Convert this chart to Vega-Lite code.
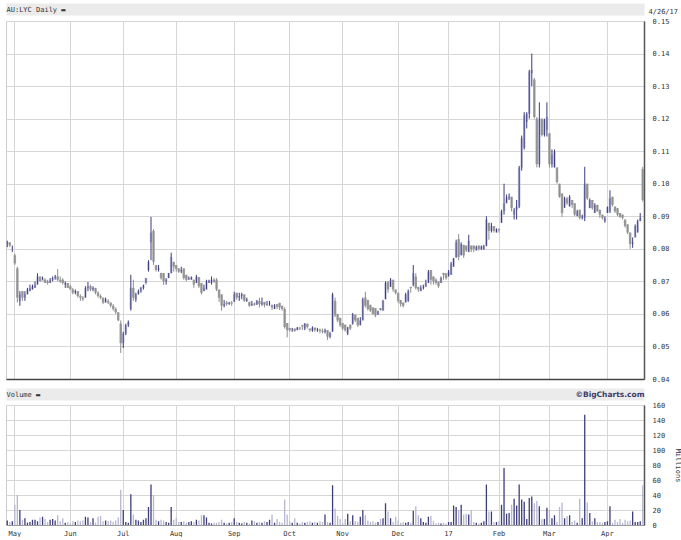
{
"$schema":"https://vega.github.io/schema/vega-lite/v6.json",
"background":"white",
"padding":{"left":5,"top":4,"right":0,"bottom":0},
"spacing":26,
"bounds":"flush",
"config":{
 "font":"DejaVu Sans Mono",
 "view":{"stroke":"#cccccc","strokeWidth":1},
 "axis":{"labelFont":"DejaVu Sans Mono","labelFontSize":7,"labelColor":"#333333","titleFont":"DejaVu Sans Mono","titleFontSize":7,"titleFontWeight":"normal","titleColor":"#333333","gridColor":"#d6d6d6","gridWidth":1,"ticks":false,"domain":false}
},
"datasets":{"p":[
{"d":"2016-04-27","o":0.0815,"h":0.0825,"l":0.0805,"c":0.082,"v":6},
{"d":"2016-04-28","o":0.082,"h":0.082,"l":0.0805,"c":0.081,"v":4},
{"d":"2016-04-29","o":0.0805,"h":0.081,"l":0.079,"c":0.0805,"v":5},
{"d":"2016-05-02","o":0.078,"h":0.0785,"l":0.075,"c":0.0755,"v":27},
{"d":"2016-05-03","o":0.074,"h":0.0745,"l":0.0635,"c":0.065,"v":40},
{"d":"2016-05-04","o":0.064,"h":0.067,"l":0.0625,"c":0.066,"v":20},
{"d":"2016-05-05","o":0.067,"h":0.067,"l":0.064,"c":0.065,"v":7},
{"d":"2016-05-06","o":0.065,"h":0.067,"l":0.064,"c":0.066,"v":9},
{"d":"2016-05-09","o":0.066,"h":0.068,"l":0.066,"c":0.0675,"v":3},
{"d":"2016-05-10","o":0.067,"h":0.069,"l":0.067,"c":0.068,"v":4},
{"d":"2016-05-11","o":0.0675,"h":0.069,"l":0.0675,"c":0.0685,"v":7},
{"d":"2016-05-12","o":0.068,"h":0.07,"l":0.068,"c":0.069,"v":7},
{"d":"2016-05-13","o":0.069,"h":0.0725,"l":0.069,"c":0.0715,"v":5},
{"d":"2016-05-16","o":0.0715,"h":0.0715,"l":0.07,"c":0.07,"v":10},
{"d":"2016-05-17","o":0.07,"h":0.0715,"l":0.0705,"c":0.071,"v":11},
{"d":"2016-05-18","o":0.0705,"h":0.071,"l":0.0695,"c":0.0695,"v":8},
{"d":"2016-05-19","o":0.07,"h":0.0705,"l":0.069,"c":0.0695,"v":4},
{"d":"2016-05-20","o":0.0695,"h":0.071,"l":0.0695,"c":0.0705,"v":7},
{"d":"2016-05-23","o":0.0705,"h":0.0715,"l":0.07,"c":0.071,"v":8},
{"d":"2016-05-24","o":0.071,"h":0.072,"l":0.0705,"c":0.0715,"v":6},
{"d":"2016-05-25","o":0.0715,"h":0.0738,"l":0.07,"c":0.0705,"v":13},
{"d":"2016-05-26","o":0.0705,"h":0.0715,"l":0.0695,"c":0.07,"v":5},
{"d":"2016-05-27","o":0.0705,"h":0.071,"l":0.069,"c":0.0695,"v":9},
{"d":"2016-05-30","o":0.069,"h":0.07,"l":0.068,"c":0.0695,"v":3},
{"d":"2016-05-31","o":0.0695,"h":0.0695,"l":0.068,"c":0.068,"v":4},
{"d":"2016-06-01","o":0.0685,"h":0.069,"l":0.0675,"c":0.0675,"v":2},
{"d":"2016-06-02","o":0.0675,"h":0.068,"l":0.066,"c":0.0665,"v":5},
{"d":"2016-06-03","o":0.0665,"h":0.0675,"l":0.066,"c":0.067,"v":4},
{"d":"2016-06-06","o":0.067,"h":0.067,"l":0.065,"c":0.0655,"v":6},
{"d":"2016-06-07","o":0.0655,"h":0.066,"l":0.064,"c":0.065,"v":5},
{"d":"2016-06-08","o":0.065,"h":0.0655,"l":0.064,"c":0.0645,"v":6},
{"d":"2016-06-09","o":0.065,"h":0.0685,"l":0.065,"c":0.068,"v":11},
{"d":"2016-06-10","o":0.068,"h":0.0698,"l":0.067,"c":0.0685,"v":10},
{"d":"2016-06-14","o":0.0685,"h":0.069,"l":0.067,"c":0.0675,"v":4},
{"d":"2016-06-15","o":0.0675,"h":0.0685,"l":0.067,"c":0.068,"v":9},
{"d":"2016-06-16","o":0.068,"h":0.068,"l":0.066,"c":0.0665,"v":3},
{"d":"2016-06-17","o":0.0665,"h":0.067,"l":0.065,"c":0.0655,"v":11},
{"d":"2016-06-20","o":0.0655,"h":0.066,"l":0.0645,"c":0.065,"v":12},
{"d":"2016-06-21","o":0.065,"h":0.065,"l":0.063,"c":0.0635,"v":5},
{"d":"2016-06-22","o":0.0635,"h":0.065,"l":0.0635,"c":0.0645,"v":6},
{"d":"2016-06-23","o":0.064,"h":0.0645,"l":0.063,"c":0.0635,"v":5},
{"d":"2016-06-24","o":0.0635,"h":0.0635,"l":0.062,"c":0.0625,"v":6},
{"d":"2016-06-27","o":0.0625,"h":0.063,"l":0.061,"c":0.0615,"v":4},
{"d":"2016-06-28","o":0.0615,"h":0.062,"l":0.06,"c":0.0605,"v":6},
{"d":"2016-06-29","o":0.0605,"h":0.0605,"l":0.0578,"c":0.058,"v":10},
{"d":"2016-06-30","o":0.057,"h":0.058,"l":0.048,"c":0.051,"v":47},
{"d":"2016-07-01","o":0.051,"h":0.0545,"l":0.0495,"c":0.054,"v":20},
{"d":"2016-07-04","o":0.054,"h":0.057,"l":0.0535,"c":0.0565,"v":4},
{"d":"2016-07-05","o":0.0565,"h":0.058,"l":0.056,"c":0.0575,"v":3},
{"d":"2016-07-06","o":0.0615,"h":0.072,"l":0.061,"c":0.068,"v":41},
{"d":"2016-07-07","o":0.068,"h":0.0705,"l":0.064,"c":0.065,"v":14},
{"d":"2016-07-08","o":0.0645,"h":0.0665,"l":0.0637,"c":0.066,"v":7},
{"d":"2016-07-11","o":0.066,"h":0.0675,"l":0.066,"c":0.067,"v":6},
{"d":"2016-07-12","o":0.067,"h":0.0683,"l":0.0665,"c":0.068,"v":4},
{"d":"2016-07-13","o":0.068,"h":0.069,"l":0.0675,"c":0.0688,"v":7},
{"d":"2016-07-14","o":0.069,"h":0.071,"l":0.0695,"c":0.071,"v":9},
{"d":"2016-07-15","o":0.0735,"h":0.0765,"l":0.073,"c":0.076,"v":24},
{"d":"2016-07-18","o":0.082,"h":0.0898,"l":0.0765,"c":0.085,"v":54},
{"d":"2016-07-19","o":0.0855,"h":0.086,"l":0.075,"c":0.076,"v":40},
{"d":"2016-07-20","o":0.075,"h":0.075,"l":0.073,"c":0.0735,"v":7},
{"d":"2016-07-21","o":0.0735,"h":0.075,"l":0.073,"c":0.074,"v":5},
{"d":"2016-07-22","o":0.0726,"h":0.0726,"l":0.0705,"c":0.071,"v":7},
{"d":"2016-07-25","o":0.0725,"h":0.0726,"l":0.0689,"c":0.07,"v":6},
{"d":"2016-07-26","o":0.07,"h":0.071,"l":0.069,"c":0.0705,"v":4},
{"d":"2016-07-27","o":0.071,"h":0.0726,"l":0.071,"c":0.0725,"v":3},
{"d":"2016-07-28","o":0.0725,"h":0.0788,"l":0.0725,"c":0.0775,"v":24},
{"d":"2016-07-29","o":0.076,"h":0.076,"l":0.073,"c":0.0745,"v":7},
{"d":"2016-08-01","o":0.075,"h":0.075,"l":0.073,"c":0.0738,"v":9},
{"d":"2016-08-02","o":0.074,"h":0.074,"l":0.0726,"c":0.073,"v":4},
{"d":"2016-08-03","o":0.073,"h":0.0745,"l":0.0725,"c":0.0735,"v":4},
{"d":"2016-08-04","o":0.074,"h":0.074,"l":0.0705,"c":0.071,"v":5},
{"d":"2016-08-05","o":0.072,"h":0.072,"l":0.07,"c":0.0705,"v":3},
{"d":"2016-08-08","o":0.0705,"h":0.0715,"l":0.0705,"c":0.071,"v":4},
{"d":"2016-08-09","o":0.0705,"h":0.0715,"l":0.0705,"c":0.0713,"v":5},
{"d":"2016-08-10","o":0.0705,"h":0.0705,"l":0.068,"c":0.069,"v":4},
{"d":"2016-08-11","o":0.0695,"h":0.072,"l":0.0695,"c":0.0715,"v":7},
{"d":"2016-08-12","o":0.0713,"h":0.0713,"l":0.068,"c":0.0685,"v":6},
{"d":"2016-08-15","o":0.0695,"h":0.0695,"l":0.066,"c":0.0665,"v":13},
{"d":"2016-08-16","o":0.067,"h":0.069,"l":0.067,"c":0.068,"v":13},
{"d":"2016-08-17","o":0.0675,"h":0.0705,"l":0.0675,"c":0.07,"v":10},
{"d":"2016-08-18","o":0.0695,"h":0.0705,"l":0.0695,"c":0.0703,"v":3},
{"d":"2016-08-19","o":0.0695,"h":0.0715,"l":0.069,"c":0.0705,"v":2},
{"d":"2016-08-22","o":0.0705,"h":0.071,"l":0.0695,"c":0.0698,"v":3},
{"d":"2016-08-23","o":0.0705,"h":0.071,"l":0.067,"c":0.0675,"v":3},
{"d":"2016-08-24","o":0.0675,"h":0.0675,"l":0.0637,"c":0.065,"v":4},
{"d":"2016-08-25","o":0.066,"h":0.066,"l":0.061,"c":0.0625,"v":7},
{"d":"2016-08-26","o":0.0625,"h":0.0643,"l":0.062,"c":0.063,"v":3},
{"d":"2016-08-29","o":0.0635,"h":0.064,"l":0.0625,"c":0.063,"v":2},
{"d":"2016-08-30","o":0.063,"h":0.0637,"l":0.0628,"c":0.0635,"v":3},
{"d":"2016-08-31","o":0.0635,"h":0.064,"l":0.0625,"c":0.0632,"v":4},
{"d":"2016-09-01","o":0.0637,"h":0.0668,"l":0.0637,"c":0.066,"v":9},
{"d":"2016-09-02","o":0.0665,"h":0.0665,"l":0.0643,"c":0.065,"v":4},
{"d":"2016-09-05","o":0.065,"h":0.0665,"l":0.064,"c":0.0655,"v":3},
{"d":"2016-09-06","o":0.0655,"h":0.0665,"l":0.0645,"c":0.066,"v":2},
{"d":"2016-09-07","o":0.066,"h":0.066,"l":0.0637,"c":0.064,"v":4},
{"d":"2016-09-08","o":0.064,"h":0.065,"l":0.0637,"c":0.0645,"v":3},
{"d":"2016-09-09","o":0.0637,"h":0.0637,"l":0.0622,"c":0.0625,"v":2},
{"d":"2016-09-12","o":0.0625,"h":0.064,"l":0.0625,"c":0.063,"v":6},
{"d":"2016-09-13","o":0.0632,"h":0.0635,"l":0.0625,"c":0.0628,"v":5},
{"d":"2016-09-14","o":0.0628,"h":0.0643,"l":0.0628,"c":0.064,"v":3},
{"d":"2016-09-15","o":0.064,"h":0.065,"l":0.062,"c":0.063,"v":4},
{"d":"2016-09-16","o":0.063,"h":0.065,"l":0.0625,"c":0.0635,"v":3},
{"d":"2016-09-19","o":0.0637,"h":0.0637,"l":0.062,"c":0.0628,"v":5},
{"d":"2016-09-20","o":0.0628,"h":0.064,"l":0.0625,"c":0.063,"v":4},
{"d":"2016-09-21","o":0.063,"h":0.064,"l":0.0625,"c":0.0632,"v":7},
{"d":"2016-09-22","o":0.0628,"h":0.0628,"l":0.0612,"c":0.062,"v":14},
{"d":"2016-09-23","o":0.0615,"h":0.063,"l":0.0615,"c":0.0625,"v":3},
{"d":"2016-09-26","o":0.063,"h":0.063,"l":0.0615,"c":0.0622,"v":8},
{"d":"2016-09-27","o":0.0634,"h":0.0634,"l":0.0612,"c":0.062,"v":4},
{"d":"2016-09-28","o":0.0625,"h":0.0625,"l":0.061,"c":0.0615,"v":3},
{"d":"2016-09-29","o":0.0615,"h":0.062,"l":0.0555,"c":0.056,"v":34},
{"d":"2016-09-30","o":0.0572,"h":0.0572,"l":0.0528,"c":0.055,"v":14},
{"d":"2016-10-03","o":0.0557,"h":0.0557,"l":0.0545,"c":0.055,"v":5},
{"d":"2016-10-04","o":0.055,"h":0.0557,"l":0.0545,"c":0.0552,"v":3},
{"d":"2016-10-05","o":0.0555,"h":0.0555,"l":0.0545,"c":0.0548,"v":9},
{"d":"2016-10-06","o":0.055,"h":0.056,"l":0.055,"c":0.0558,"v":3},
{"d":"2016-10-07","o":0.0558,"h":0.056,"l":0.055,"c":0.0555,"v":2},
{"d":"2016-10-10","o":0.0566,"h":0.0566,"l":0.055,"c":0.0562,"v":4},
{"d":"2016-10-11","o":0.0555,"h":0.0572,"l":0.055,"c":0.057,"v":3},
{"d":"2016-10-12","o":0.057,"h":0.057,"l":0.0555,"c":0.056,"v":4},
{"d":"2016-10-13","o":0.0555,"h":0.0555,"l":0.0545,"c":0.055,"v":5},
{"d":"2016-10-14","o":0.0548,"h":0.0562,"l":0.0545,"c":0.0558,"v":3},
{"d":"2016-10-17","o":0.0558,"h":0.0558,"l":0.0545,"c":0.055,"v":4},
{"d":"2016-10-18","o":0.055,"h":0.0557,"l":0.0545,"c":0.0552,"v":3},
{"d":"2016-10-19","o":0.0552,"h":0.0555,"l":0.054,"c":0.0548,"v":5},
{"d":"2016-10-20","o":0.0548,"h":0.0555,"l":0.054,"c":0.0545,"v":4},
{"d":"2016-10-21","o":0.0545,"h":0.0555,"l":0.054,"c":0.055,"v":14},
{"d":"2016-10-24","o":0.055,"h":0.055,"l":0.052,"c":0.053,"v":4},
{"d":"2016-10-25","o":0.053,"h":0.0545,"l":0.0525,"c":0.054,"v":3},
{"d":"2016-10-26","o":0.0545,"h":0.0665,"l":0.0545,"c":0.066,"v":53},
{"d":"2016-10-27","o":0.064,"h":0.065,"l":0.059,"c":0.0595,"v":22},
{"d":"2016-10-28","o":0.06,"h":0.06,"l":0.0575,"c":0.058,"v":12},
{"d":"2016-10-31","o":0.0588,"h":0.0588,"l":0.056,"c":0.0565,"v":8},
{"d":"2016-11-01","o":0.0572,"h":0.0572,"l":0.055,"c":0.0555,"v":3},
{"d":"2016-11-02","o":0.0567,"h":0.0567,"l":0.0545,"c":0.055,"v":8},
{"d":"2016-11-03","o":0.054,"h":0.056,"l":0.0535,"c":0.0558,"v":15},
{"d":"2016-11-04","o":0.0567,"h":0.0567,"l":0.055,"c":0.0555,"v":5},
{"d":"2016-11-07","o":0.057,"h":0.0603,"l":0.0567,"c":0.06,"v":13},
{"d":"2016-11-08","o":0.0598,"h":0.0598,"l":0.0575,"c":0.058,"v":5},
{"d":"2016-11-09","o":0.0588,"h":0.0588,"l":0.056,"c":0.0565,"v":4},
{"d":"2016-11-10","o":0.0565,"h":0.059,"l":0.0565,"c":0.058,"v":11},
{"d":"2016-11-11","o":0.058,"h":0.065,"l":0.058,"c":0.0645,"v":20},
{"d":"2016-11-14","o":0.065,"h":0.0668,"l":0.062,"c":0.0625,"v":13},
{"d":"2016-11-15","o":0.0643,"h":0.0643,"l":0.061,"c":0.0615,"v":6},
{"d":"2016-11-16","o":0.0628,"h":0.0628,"l":0.0606,"c":0.061,"v":4},
{"d":"2016-11-17","o":0.062,"h":0.062,"l":0.0597,"c":0.06,"v":5},
{"d":"2016-11-18","o":0.0618,"h":0.0618,"l":0.059,"c":0.0595,"v":3},
{"d":"2016-11-21","o":0.0597,"h":0.061,"l":0.0597,"c":0.0608,"v":4},
{"d":"2016-11-22","o":0.0618,"h":0.0618,"l":0.061,"c":0.0612,"v":8},
{"d":"2016-11-23","o":0.061,"h":0.0643,"l":0.061,"c":0.064,"v":9},
{"d":"2016-11-24","o":0.0645,"h":0.07,"l":0.0645,"c":0.0695,"v":29},
{"d":"2016-11-25","o":0.07,"h":0.07,"l":0.0665,"c":0.0675,"v":18},
{"d":"2016-11-28","o":0.0683,"h":0.071,"l":0.0683,"c":0.0705,"v":9},
{"d":"2016-11-29","o":0.0705,"h":0.0705,"l":0.0668,"c":0.0675,"v":4},
{"d":"2016-11-30","o":0.0675,"h":0.0675,"l":0.066,"c":0.0665,"v":11},
{"d":"2016-12-01","o":0.0665,"h":0.0665,"l":0.0634,"c":0.064,"v":6},
{"d":"2016-12-02","o":0.0643,"h":0.0643,"l":0.0622,"c":0.063,"v":3},
{"d":"2016-12-05","o":0.0635,"h":0.0635,"l":0.062,"c":0.0625,"v":4},
{"d":"2016-12-06","o":0.0635,"h":0.0665,"l":0.0635,"c":0.066,"v":3},
{"d":"2016-12-07","o":0.064,"h":0.0675,"l":0.0637,"c":0.067,"v":4},
{"d":"2016-12-08","o":0.0683,"h":0.0683,"l":0.0665,"c":0.068,"v":3},
{"d":"2016-12-09","o":0.069,"h":0.075,"l":0.0685,"c":0.0725,"v":19},
{"d":"2016-12-12","o":0.0715,"h":0.0725,"l":0.0675,"c":0.068,"v":25},
{"d":"2016-12-13","o":0.0683,"h":0.0683,"l":0.0668,"c":0.0675,"v":13},
{"d":"2016-12-14","o":0.067,"h":0.0688,"l":0.067,"c":0.068,"v":9},
{"d":"2016-12-15","o":0.068,"h":0.069,"l":0.0675,"c":0.0685,"v":4},
{"d":"2016-12-16","o":0.0685,"h":0.0705,"l":0.0683,"c":0.0695,"v":3},
{"d":"2016-12-19","o":0.0695,"h":0.0735,"l":0.0695,"c":0.073,"v":11},
{"d":"2016-12-20","o":0.0735,"h":0.0735,"l":0.069,"c":0.0705,"v":12},
{"d":"2016-12-21","o":0.0715,"h":0.0715,"l":0.069,"c":0.07,"v":5},
{"d":"2016-12-22","o":0.0705,"h":0.071,"l":0.069,"c":0.0695,"v":2},
{"d":"2016-12-23","o":0.07,"h":0.07,"l":0.068,"c":0.0685,"v":3},
{"d":"2016-12-28","o":0.0695,"h":0.0715,"l":0.0695,"c":0.071,"v":2},
{"d":"2016-12-29","o":0.0726,"h":0.0726,"l":0.0705,"c":0.072,"v":3},
{"d":"2016-12-30","o":0.0725,"h":0.0725,"l":0.0705,"c":0.071,"v":2},
{"d":"2017-01-03","o":0.0715,"h":0.0735,"l":0.0715,"c":0.073,"v":4},
{"d":"2017-01-04","o":0.072,"h":0.076,"l":0.072,"c":0.0755,"v":4},
{"d":"2017-01-05","o":0.0745,"h":0.0772,"l":0.0745,"c":0.077,"v":26},
{"d":"2017-01-06","o":0.0775,"h":0.0828,"l":0.0772,"c":0.082,"v":24},
{"d":"2017-01-09","o":0.083,"h":0.0845,"l":0.0765,"c":0.0775,"v":20},
{"d":"2017-01-10","o":0.078,"h":0.082,"l":0.078,"c":0.0815,"v":27},
{"d":"2017-01-11","o":0.0812,"h":0.0812,"l":0.0772,"c":0.078,"v":14},
{"d":"2017-01-12","o":0.081,"h":0.081,"l":0.079,"c":0.0795,"v":15},
{"d":"2017-01-13","o":0.079,"h":0.0843,"l":0.079,"c":0.0825,"v":14},
{"d":"2017-01-16","o":0.081,"h":0.081,"l":0.079,"c":0.0798,"v":20},
{"d":"2017-01-17","o":0.081,"h":0.081,"l":0.079,"c":0.08,"v":4},
{"d":"2017-01-18","o":0.0795,"h":0.081,"l":0.0795,"c":0.0805,"v":3},
{"d":"2017-01-19","o":0.081,"h":0.081,"l":0.0795,"c":0.08,"v":2},
{"d":"2017-01-20","o":0.0797,"h":0.081,"l":0.0797,"c":0.0808,"v":3},
{"d":"2017-01-23","o":0.0797,"h":0.0812,"l":0.0797,"c":0.081,"v":5},
{"d":"2017-01-24","o":0.081,"h":0.09,"l":0.0808,"c":0.089,"v":54},
{"d":"2017-01-25","o":0.088,"h":0.088,"l":0.0828,"c":0.0855,"v":18},
{"d":"2017-01-27","o":0.0855,"h":0.088,"l":0.085,"c":0.087,"v":18},
{"d":"2017-01-30","o":0.087,"h":0.087,"l":0.085,"c":0.0855,"v":4},
{"d":"2017-01-31","o":0.085,"h":0.0863,"l":0.085,"c":0.086,"v":4},
{"d":"2017-02-01","o":0.086,"h":0.0863,"l":0.085,"c":0.0857,"v":5},
{"d":"2017-02-02","o":0.088,"h":0.092,"l":0.088,"c":0.0915,"v":27},
{"d":"2017-02-03","o":0.0915,"h":0.1,"l":0.0905,"c":0.094,"v":76},
{"d":"2017-02-06","o":0.094,"h":0.0967,"l":0.094,"c":0.0958,"v":15},
{"d":"2017-02-07","o":0.0955,"h":0.097,"l":0.095,"c":0.096,"v":16},
{"d":"2017-02-08","o":0.096,"h":0.096,"l":0.0915,"c":0.0925,"v":27},
{"d":"2017-02-09","o":0.0905,"h":0.0925,"l":0.089,"c":0.092,"v":35},
{"d":"2017-02-10","o":0.092,"h":0.095,"l":0.089,"c":0.093,"v":26},
{"d":"2017-02-13","o":0.093,"h":0.1055,"l":0.0925,"c":0.105,"v":54},
{"d":"2017-02-14","o":0.105,"h":0.1148,"l":0.104,"c":0.114,"v":34},
{"d":"2017-02-15","o":0.111,"h":0.122,"l":0.1105,"c":0.121,"v":31},
{"d":"2017-02-16","o":0.119,"h":0.122,"l":0.117,"c":0.1215,"v":8},
{"d":"2017-02-17","o":0.1215,"h":0.135,"l":0.12,"c":0.1345,"v":36},
{"d":"2017-02-20","o":0.134,"h":0.14,"l":0.13,"c":0.135,"v":38},
{"d":"2017-02-21","o":0.132,"h":0.1325,"l":0.12,"c":0.1205,"v":29},
{"d":"2017-02-22","o":0.12,"h":0.1205,"l":0.105,"c":0.106,"v":32},
{"d":"2017-02-23","o":0.106,"h":0.125,"l":0.105,"c":0.12,"v":25},
{"d":"2017-02-24","o":0.12,"h":0.12,"l":0.1145,"c":0.115,"v":8},
{"d":"2017-02-27","o":0.115,"h":0.12,"l":0.1145,"c":0.1195,"v":8},
{"d":"2017-02-28","o":0.1165,"h":0.125,"l":0.1145,"c":0.1205,"v":23},
{"d":"2017-03-01","o":0.1155,"h":0.1155,"l":0.105,"c":0.106,"v":20},
{"d":"2017-03-02","o":0.106,"h":0.1105,"l":0.105,"c":0.109,"v":9},
{"d":"2017-03-03","o":0.105,"h":0.1105,"l":0.105,"c":0.11,"v":13},
{"d":"2017-03-06","o":0.105,"h":0.105,"l":0.1,"c":0.1005,"v":4},
{"d":"2017-03-07","o":0.1,"h":0.1,"l":0.0957,"c":0.096,"v":24},
{"d":"2017-03-08","o":0.097,"h":0.097,"l":0.0898,"c":0.091,"v":30},
{"d":"2017-03-09","o":0.0926,"h":0.096,"l":0.0926,"c":0.0955,"v":9},
{"d":"2017-03-10","o":0.0955,"h":0.096,"l":0.0935,"c":0.094,"v":12},
{"d":"2017-03-13","o":0.093,"h":0.0965,"l":0.093,"c":0.096,"v":13},
{"d":"2017-03-14","o":0.095,"h":0.095,"l":0.0925,"c":0.0935,"v":4},
{"d":"2017-03-15","o":0.094,"h":0.094,"l":0.09,"c":0.0905,"v":6},
{"d":"2017-03-16","o":0.09,"h":0.092,"l":0.09,"c":0.0915,"v":3},
{"d":"2017-03-17","o":0.092,"h":0.092,"l":0.089,"c":0.0895,"v":35},
{"d":"2017-03-20","o":0.0895,"h":0.0905,"l":0.089,"c":0.0902,"v":9},
{"d":"2017-03-21","o":0.0895,"h":0.1052,"l":0.0885,"c":0.1,"v":147},
{"d":"2017-03-22","o":0.1,"h":0.1,"l":0.095,"c":0.0955,"v":30},
{"d":"2017-03-23","o":0.0925,"h":0.0955,"l":0.0925,"c":0.095,"v":16},
{"d":"2017-03-24","o":0.095,"h":0.095,"l":0.092,"c":0.0925,"v":5},
{"d":"2017-03-27","o":0.091,"h":0.094,"l":0.091,"c":0.0935,"v":9},
{"d":"2017-03-28","o":0.0935,"h":0.0935,"l":0.0915,"c":0.0915,"v":4},
{"d":"2017-03-29","o":0.092,"h":0.092,"l":0.0895,"c":0.0905,"v":4},
{"d":"2017-03-30","o":0.0905,"h":0.0905,"l":0.089,"c":0.0895,"v":3},
{"d":"2017-03-31","o":0.0885,"h":0.09,"l":0.088,"c":0.0895,"v":4},
{"d":"2017-04-03","o":0.091,"h":0.093,"l":0.091,"c":0.0928,"v":5},
{"d":"2017-04-04","o":0.0915,"h":0.098,"l":0.091,"c":0.0955,"v":25},
{"d":"2017-04-05","o":0.096,"h":0.096,"l":0.093,"c":0.0935,"v":3},
{"d":"2017-04-06","o":0.093,"h":0.093,"l":0.091,"c":0.0915,"v":7},
{"d":"2017-04-07","o":0.0925,"h":0.0925,"l":0.09,"c":0.0905,"v":4},
{"d":"2017-04-10","o":0.091,"h":0.091,"l":0.0895,"c":0.0898,"v":8},
{"d":"2017-04-11","o":0.0905,"h":0.0905,"l":0.089,"c":0.0895,"v":3},
{"d":"2017-04-12","o":0.089,"h":0.089,"l":0.0865,"c":0.087,"v":7},
{"d":"2017-04-13","o":0.0875,"h":0.0875,"l":0.0845,"c":0.085,"v":5},
{"d":"2017-04-18","o":0.085,"h":0.085,"l":0.08,"c":0.0815,"v":6},
{"d":"2017-04-19","o":0.0815,"h":0.0835,"l":0.0803,"c":0.082,"v":18},
{"d":"2017-04-20","o":0.0835,"h":0.0875,"l":0.0835,"c":0.087,"v":4},
{"d":"2017-04-21","o":0.085,"h":0.089,"l":0.085,"c":0.0885,"v":4},
{"d":"2017-04-24","o":0.0885,"h":0.091,"l":0.0885,"c":0.0895,"v":5},
{"d":"2017-04-26","o":0.1045,"h":0.1052,"l":0.0945,"c":0.095,"v":53}
]},
"data":{"name":"p"},
"vconcat":[
{
 "width":638,"height":358,
 "layer":[
  {
   "mark":{"type":"bar","width":2.5},
   "encoding":{
    "x":{"field":"d","type":"ordinal","scale":{"paddingInner":0,"paddingOuter":0},
     "axis":{"orient":"top","labels":false,"grid":false,"domain":true,"domainColor":"#ebebeb","domainWidth":12,"domainCap":"butt","offset":12,"title":"AU:LYC Daily ▬","titleX":0,"titleY":0,"titleAlign":"left","titleBaseline":"middle","titleAnchor":"start"}},
    "y":{"field":"o","type":"quantitative","scale":{"domain":[0.04,0.15],"zero":false,"nice":false},"axis":null},
    "y2":{"field":"c"},
    "color":{"condition":{"test":"datum.c >= datum.o","value":"#c2c2de"},"value":"#a3a3a3"}
   }
  },
  {
   "mark":{"type":"rule","strokeWidth":1},
   "encoding":{
    "x":{"field":"d","type":"ordinal",
     "axis":{"orient":"bottom","labels":false,"grid":true,"values":["2016-05-02","2016-06-01","2016-07-01","2016-08-01","2016-09-01","2016-10-03","2016-11-01","2016-12-01","2017-01-03","2017-02-01","2017-03-01","2017-04-03"],"domain":true,"domainColor":"#444444","domainWidth":1.5,"title":null}},
    "y":{"field":"l","type":"quantitative",
     "axis":{"orient":"right","values":[0.04,0.05,0.06,0.07,0.08,0.09,0.1,0.11,0.12,0.13,0.14,0.15],"format":".2f","grid":true,"domain":true,"domainColor":"#555555","domainWidth":1.5,"labelPadding":8,"title":"4/26/17","titleAngle":0,"titleX":4,"titleY":-10,"titleAlign":"left","titleBaseline":"middle"}},
    "y2":{"field":"h"},
    "color":{"condition":{"test":"datum.c >= datum.o","value":"#3b3b7d"},"value":"#8e8e8e"}
   }
  }
 ],
 "resolve":{"axis":{"x":"independent","y":"independent"}}
},
{
 "width":638,"height":120,
 "layer":[
  {
   "transform":[{"filter":"datum.c >= datum.o"}],
   "mark":{"type":"bar","width":1.3,"color":"#3d3d7a"},
   "encoding":{
    "x":{"field":"d","type":"ordinal","scale":{"paddingInner":0,"paddingOuter":0},
     "axis":{"orient":"bottom","values":["2016-05-02","2016-06-01","2016-07-01","2016-08-01","2016-09-01","2016-10-03","2016-11-01","2016-12-01","2017-01-03","2017-02-01","2017-03-01","2017-04-03"],"labelExpr":"['17','Feb','Mar','Apr','May','Jun','Jul','Aug','Sep','Oct','Nov','Dec'][toNumber(substring(datum.value,5,7))-1]","labelAngle":0,"labelAlign":"center","labelBaseline":"top","labelPadding":4,"grid":true,"domain":true,"domainColor":"#999999","title":null}},
    "y":{"field":"v","type":"quantitative","scale":{"domain":[0,160],"nice":false},
     "axis":{"orient":"right","values":[0,20,40,60,80,100,120,140,160],"grid":true,"domain":true,"domainColor":"#555555","domainWidth":1.5,"labelPadding":8,"title":"Millions","titleAngle":90,"titleX":33,"titleY":60,"titleAlign":"center","titleBaseline":"middle"}}
   }
  },
  {
   "transform":[{"filter":"datum.c < datum.o"}],
   "mark":{"type":"bar","width":1.3,"color":"#b6b6d2"},
   "encoding":{
    "x":{"field":"d","type":"ordinal",
     "axis":{"orient":"top","labels":false,"grid":false,"domain":true,"domainColor":"#ebebeb","domainWidth":12,"domainCap":"butt","offset":11,"title":"Volume ▬","titleX":0,"titleY":0,"titleAlign":"left","titleBaseline":"middle","titleAnchor":"start"}},
    "y":{"field":"v","type":"quantitative",
     "axis":{"orient":"left","labels":false,"grid":false,"domain":false,"title":"©BigCharts.com","titleAngle":0,"titleX":638,"titleY":-11,"titleAlign":"right","titleBaseline":"middle","titleFont":"DejaVu Sans","titleFontWeight":"bold","titleFontSize":7.5,"titleColor":"#3a3a6a"}}
   }
  }
 ],
 "resolve":{"axis":{"x":"independent","y":"independent"}}
}
]
}
